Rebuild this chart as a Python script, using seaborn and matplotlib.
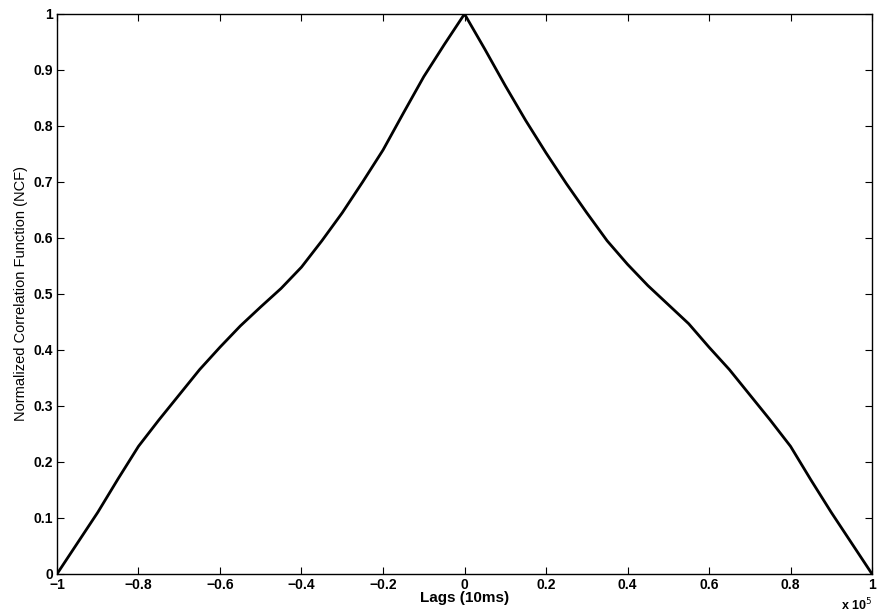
import matplotlib
matplotlib.use("Agg")
import matplotlib.pyplot as plt
import seaborn as sns
import pandas as pd

# Lags in units of 1e5 (10 ms steps) and normalized correlation values
lags_e5 = [-1.0, -0.95, -0.9, -0.85, -0.8, -0.75, -0.7, -0.65, -0.6, -0.55,
           -0.5, -0.45, -0.4, -0.35, -0.3, -0.25, -0.2, -0.15, -0.1, -0.05,
           0.0, 0.05, 0.1, 0.15, 0.2, 0.25, 0.3, 0.35, 0.4, 0.45,
           0.5, 0.55, 0.6, 0.65, 0.7, 0.75, 0.8, 0.85, 0.9, 0.95, 1.0]
ncf = [0.0, 0.055, 0.11, 0.17, 0.228, 0.275, 0.32, 0.365, 0.405, 0.443,
       0.477, 0.51, 0.548, 0.595, 0.645, 0.70, 0.757, 0.823, 0.888, 0.945,
       1.0, 0.937, 0.872, 0.81, 0.752, 0.697, 0.645, 0.595, 0.553, 0.515,
       0.481, 0.447, 0.405, 0.365, 0.32, 0.275, 0.228, 0.168, 0.11, 0.055, 0.0]

xticks = [-1, -0.8, -0.6, -0.4, -0.2, 0, 0.2, 0.4, 0.6, 0.8, 1]
xtick_labels = ["\u22121", "\u22120.8", "\u22120.6", "\u22120.4", "\u22120.2", "0",
                "0.2", "0.4", "0.6", "0.8", "1"]
yticks = [0, 0.1, 0.2, 0.3, 0.4, 0.5, 0.6, 0.7, 0.8, 0.9, 1]
ytick_labels = ["0", "0.1", "0.2", "0.3", "0.4", "0.5", "0.6", "0.7", "0.8", "0.9", "1"]

sns.set_style("ticks", {"xtick.direction": "in", "ytick.direction": "in"})
plt.rcParams["font.family"] = ["Liberation Sans", "DejaVu Sans"]
plt.rcParams.update({"text.color": "black", "axes.labelcolor": "black",
                     "xtick.color": "black", "ytick.color": "black"})

df = pd.DataFrame({"lag": lags_e5, "ncf": ncf})

fig = plt.figure(figsize=(8.78, 6.16), dpi=100)
ax = fig.add_axes([0.0649, 0.0682, 0.9283, 0.9091])

sns.lineplot(data=df, x="lag", y="ncf", color="black", linewidth=2.0, ax=ax)
ax.lines[0].set_solid_joinstyle("round")

ax.set_xlim(-1, 1)
ax.set_ylim(0, 1)
ax.set_xticks(xticks)
ax.set_xticklabels(xtick_labels, fontsize=10, fontweight="bold")
ax.set_yticks(yticks)
ax.set_yticklabels(ytick_labels, fontsize=10, fontweight="bold")
ax.tick_params(axis="both", which="major", length=5, width=0.8, color="black",
               labelcolor="black", top=True, right=True, pad=3)
for side in ax.spines.values():
    side.set_visible(True)
    side.set_linewidth(1.0)
    side.set_color("black")

ax.set_xlabel("Lags (10ms)", fontsize=11, fontweight="bold", labelpad=-1)
ax.set_ylabel("Normalized Correlation Function (NCF)", fontsize=10.5, labelpad=4)
ax.text(1.0, -0.055, "x 10$^5$", transform=ax.transAxes, ha="right", va="center",
        fontsize=9, fontweight="bold")

fig.savefig("out.png", dpi=100)
